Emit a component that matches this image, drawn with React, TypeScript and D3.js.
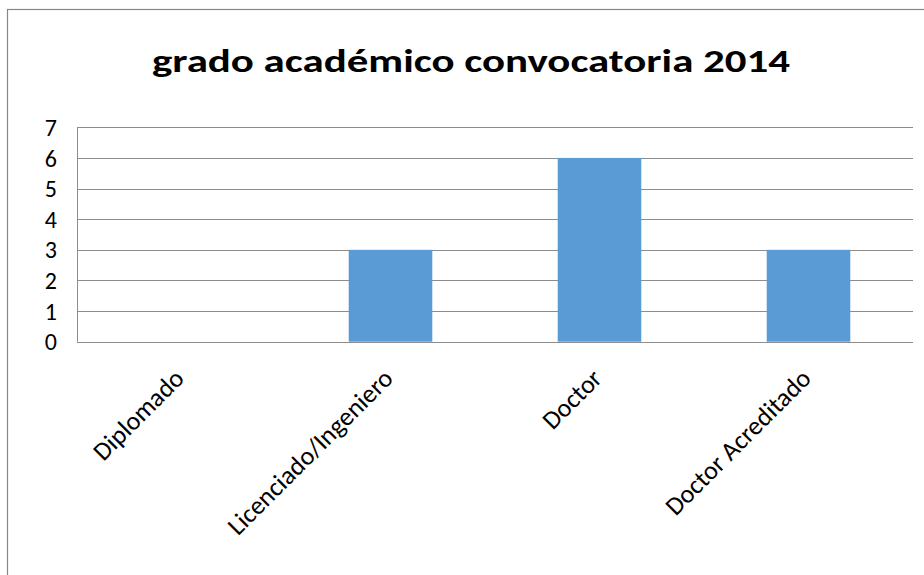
import React from "react";
import * as d3 from "d3";

const title = "grado académico convocatoria 2014";
const categories = ["Diplomado", "Licenciado/Ingeniero", "Doctor", "Doctor Acreditado"];
const values = [0, 3, 6, 3];
const yTicks = [0, 1, 2, 3, 4, 5, 6, 7];

const W = 924;
const H = 575;
const plot = { left: 77, right: 913, top: 127.3, bottom: 341.7 };

export default function App() {
  const x = d3
    .scaleBand<string>()
    .domain(categories)
    .range([plot.left, plot.right])
    .paddingInner(0.6)
    .paddingOuter(0.3);
  const y = d3.scaleLinear().domain([0, 7]).range([plot.bottom, plot.top]);
  const font = "Calibri, Carlito, 'Open Sans', sans-serif";
  return (
    <svg
      width={W}
      height={H}
      style={{ position: "absolute", left: 0, top: 0, background: "#fff" }}
      fontFamily={font}
    >
      <rect x={7.5} y={9.5} width={W + 10} height={H + 10} fill="#fff" stroke="#878787" strokeWidth={1.2} />
      <text
        x={471}
        y={72}
        textAnchor="middle"
        fontSize={32}
        fontWeight="bold"
        fill="#000"
        textLength={638}
        lengthAdjust="spacingAndGlyphs"
      >
        {title}
      </text>
      {yTicks.map((t) => (
        <g key={t}>
          <line
            x1={plot.left}
            x2={plot.right}
            y1={Math.round(y(t)) + 0.5}
            y2={Math.round(y(t)) + 0.5}
            stroke="#8c8c8c"
            strokeWidth={1}
          />
          <text x={57} y={y(t)} dy="0.36em" textAnchor="end" fontSize={24} fill="#000">
            {t}
          </text>
        </g>
      ))}
      <line x1={plot.left + 0.5} x2={plot.left + 0.5} y1={plot.top} y2={plot.bottom} stroke="#8c8c8c" />
      {categories.map((c, i) => (
        <rect
          key={c}
          x={x(c)!}
          y={y(values[i])}
          width={x.bandwidth()}
          height={plot.bottom - y(values[i])}
          fill="#5B9BD5"
        />
      ))}
      <line x1={plot.left} x2={plot.right} y1={Math.round(plot.bottom) + 0.5} y2={Math.round(plot.bottom) + 0.5} stroke="#8c8c8c" />
      {categories.map((c) => {
        const cx = x(c)! + x.bandwidth() / 2 + 4;
        const cy = 380;
        return (
          <text
            key={c}
            transform={`translate(${cx},${cy}) rotate(-45)`}
            textAnchor="end"
            fontSize={26}
            fill="#000"
          >
            {c}
          </text>
        );
      })}
    </svg>
  );
}
